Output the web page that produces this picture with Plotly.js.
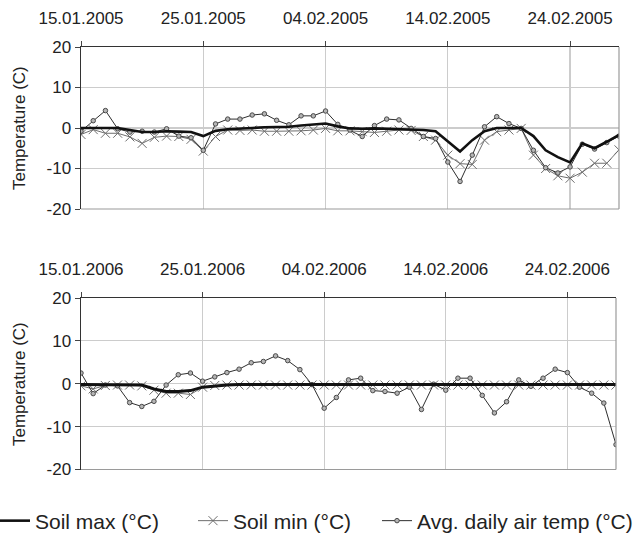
<!DOCTYPE html>
<html><head><meta charset="utf-8">
<script src="https://cdn.plot.ly/plotly-3.0.1.min.js"></script>
<style>html,body{margin:0;padding:0;background:#fff;overflow:hidden}
#wrap{width:644px;height:535px;overflow:hidden;position:relative}
#chart{position:absolute;left:-12px;top:0}</style>
</head><body><div id="wrap"><div id="chart"></div></div>
<script>
// ---- data (daily values, 15 Jan .. 28 Feb) ----
const start2005 = '2005-01-15';
const start2006 = '2006-01-15';
const end2005 = '2005-02-28';
const end2006 = '2006-02-28';

const tickDates2005 = ['2005-01-15','2005-01-25','2005-02-04','2005-02-14','2005-02-24'];
const tickLabels2005 = ['15.01.2005','25.01.2005','04.02.2005','14.02.2005','24.02.2005'];
const tickDates2006 = ['2006-01-15','2006-01-25','2006-02-04','2006-02-14','2006-02-24'];
const tickLabels2006 = ['15.01.2006','25.01.2006','04.02.2006','14.02.2006','24.02.2006'];

const yTickVals = [-20,-10,0,10,20];
const yTickText = ['-20','-10','0','10','20'];

const seriesNames = ['Soil max (°C)','Soil min (°C)','Avg. daily air temp (°C)'];

const soilMax2005 = [0,0,0,0,-0.5,-1.0,-1.0,-0.8,-0.9,-1.0,
  -2.0,-0.7,-0.3,-0.2,0,0.2,0.3,0.3,0.6,0.8,
  1.1,0.4,-0.1,-0.2,-0.1,-0.2,-0.3,-0.4,-0.5,-0.8,
  -3.2,-5.8,-3.0,-0.8,0,0,0,-2.0,-5.5,-7.2,
  -8.5,-3.8,-5.0,-3.4,-1.7];
const soilMin2005 = [-1.6,-0.4,-1.3,-1.3,-2.2,-3.8,-2.3,-2.0,-2.1,-2.8,
  -5.7,-2.1,-0.5,-0.6,-0.5,-0.8,-0.8,-0.8,-0.7,-0.5,
  -0.1,-0.7,-0.7,-0.9,-1.1,-0.8,-0.5,-0.6,-2.1,-3.0,
  -6.7,-8.8,-9.0,-3.0,-0.9,-0.5,-0.1,-6.7,-10.0,-11.8,
  -12.4,-10.9,-8.7,-8.7,-5.4];
const airTemp2005 = [-0.8,1.8,4.3,-0.2,-1.0,-0.8,-1.0,-0.2,-2.0,-2.4,
  -5.5,1.0,2.2,2.2,3.2,3.5,1.9,0.8,3.0,3.0,
  4.2,0.9,-0.5,-2.1,0.6,2.2,2.0,-0.1,-2.1,-2.6,
  -8.4,-13.2,-6.7,0.3,2.8,1.1,-0.1,-5.5,-9.8,-11.1,
  -9.6,-4.0,-5.2,-3.6,-2.0];

const soilMax2006 = [-0.2,-0.2,-0.2,-0.2,-0.2,-0.3,-1.2,-1.8,-1.8,-1.6,
  -0.8,-0.5,-0.3,-0.2,-0.2,-0.2,-0.2,-0.2,-0.2,-0.2,
  -0.2,-0.2,-0.2,-0.2,-0.2,-0.2,-0.2,-0.2,-0.2,-0.2,
  -0.2,-0.2,-0.2,-0.2,-0.2,-0.2,-0.2,-0.2,-0.2,-0.2,
  -0.2,-0.2,-0.2,-0.2,-0.2];
const soilMin2006 = [-0.5,-1.2,-0.4,-0.3,-0.3,-0.5,-1.5,-2.2,-2.2,-2.5,
  -0.8,-0.4,-0.3,-0.3,-0.3,-0.3,-0.3,-0.3,-0.3,-0.3,
  -0.3,-0.3,-0.3,-0.3,-0.3,-0.3,-0.3,-0.3,-0.3,-0.3,
  -0.3,-0.3,-0.3,-0.3,-0.3,-0.3,-0.3,-0.3,-0.3,-0.3,
  -0.3,-0.3,-0.3,-0.3,-0.3];
const airTemp2006 = [2.5,-2.3,-0.3,-0.5,-4.4,-5.3,-4.1,-0.3,2.1,2.5,
  0.6,1.6,2.6,3.4,4.9,5.2,6.5,5.4,3.3,-0.2,
  -5.7,-3.2,0.9,1.3,-1.6,-1.8,-2.2,-0.8,-6.0,-0.1,
  -1.5,1.3,1.3,-2.7,-6.8,-4.2,0.9,-0.6,1.3,3.4,
  2.6,-0.8,-2.2,-4.5,-14.2];

// ---- helpers ----
function dailyDates(start, n){
  const out = [];
  const d0 = new Date(start + 'T00:00:00Z');
  for (let i = 0; i < n; i++){
    const d = new Date(d0.getTime() + i*86400000);
    out.push(d.toISOString().slice(0,10));
  }
  return out;
}
const FONT = 'Liberation Sans, Arial, sans-serif';
const S = 12;              // paper extends S px left of the visible window
const W = 644 + S, H = 535;
const px = v => (v + S) / W;   // visible x pixel -> paper fraction
const py = v => 1 - v / H;     // visible y pixel -> paper fraction

function traces(dates, smax, smin, air, xa, ya, legend, maxWidth){
  return [
    {x: dates, y: smin, xaxis: xa, yaxis: ya, name: seriesNames[1], legend: 'legend2',
     showlegend: legend, mode: 'lines+markers',
     line: {color: '#6e6e6e', width: 1},
     marker: {symbol: 'x-thin', size: 9, color: '#6e6e6e', line: {color: '#6e6e6e', width: 1}}},
    {x: dates, y: air, xaxis: xa, yaxis: ya, name: seriesNames[2], legend: 'legend3',
     showlegend: legend, mode: 'lines+markers',
     line: {color: '#2e2e2e', width: 1},
     marker: {symbol: 'circle', size: 4.5, color: '#b5b5b5', line: {color: '#4a4a4a', width: 1}}},
    {x: dates, y: smax, xaxis: xa, yaxis: ya, name: seriesNames[0], legend: 'legend',
     showlegend: legend, mode: 'lines',
     line: {color: '#111111', width: maxWidth}}
  ];
}

const d2005 = dailyDates(start2005, airTemp2005.length);
const d2006 = dailyDates(start2006, airTemp2006.length);

const data = [].concat(
  traces(d2005, soilMax2005, soilMin2005, airTemp2005, 'x', 'y', true, 2.6),
  traces(d2006, soilMax2006, soilMin2006, airTemp2006, 'x2', 'y2', false, 3)
);

function xAxis(domain, anchor, range, tv, tt){
  return {type: 'date', domain: domain, anchor: anchor, side: 'top', range: range,
    tickvals: tv, ticktext: tt, ticks: 'outside', ticklen: 5, tickcolor: '#444',
    showgrid: true, gridcolor: '#cccccc', gridwidth: 1.2,
    showline: true, linecolor: '#333', linewidth: 1.5, zeroline: false,
    ticklabelstandoff: 10, automargin: false,
    tickfont: {family: FONT, size: 17, color: '#222'}, fixedrange: true};
}
function yAxis(domain, anchor){
  return {domain: domain, anchor: anchor, range: [-20, 20], tickvals: yTickVals, ticktext: yTickText,
    ticks: 'outside', ticklen: 5, tickcolor: '#444', automargin: false,
    showgrid: true, gridcolor: '#cccccc', gridwidth: 1.2,
    showline: true, linecolor: '#333', linewidth: 1.5, zeroline: false,
    tickfont: {family: FONT, size: 17, color: '#222'}, fixedrange: true};
}
function frame(xa, ya){
  const xr = xa + ' domain', yr = ya + ' domain';
  return [
    {type: 'line', xref: xr, yref: yr, x0: 1, x1: 1, y0: 0, y1: 1, line: {color: '#9a9a9a', width: 1.2}},
    {type: 'line', xref: xr, yref: yr, x0: 0, x1: 1, y0: 0, y1: 0, line: {color: '#9a9a9a', width: 1.2}}
  ];
}
function legendAt(xText){
  // legend text starts 40px right of the legend origin
  return {orientation: 'h', x: px(xText - 40), xanchor: 'left', y: py(521), yanchor: 'middle',
    bgcolor: 'rgba(0,0,0,0)', borderwidth: 0,
    font: {family: FONT, size: 21, color: '#222'}};
}

const layout = {
  width: W, height: H,
  margin: {l: 0, r: 0, t: 0, b: 0, pad: 0, autoexpand: false},
  paper_bgcolor: '#fff', plot_bgcolor: '#fff',
  font: {family: FONT, color: '#222'},
  xaxis: xAxis([px(81), px(619)], 'y', [start2005, end2005], tickDates2005, tickLabels2005),
  yaxis: yAxis([py(209), py(47)], 'x'),
  xaxis2: xAxis([px(81), px(616)], 'y2', [start2006, end2006], tickDates2006, tickLabels2006),
  yaxis2: yAxis([py(469.5), py(298)], 'x2'),
  shapes: frame('x', 'y').concat(frame('x2', 'y2')),
  annotations: [
    {text: 'Temperature (C)', xref: 'paper', yref: 'paper', x: px(20), y: py(128),
     textangle: -90, showarrow: false, xanchor: 'center', yanchor: 'middle',
     font: {family: FONT, size: 17, color: '#222'}},
    {text: 'Temperature (C)', xref: 'paper', yref: 'paper', x: px(20), y: py(384),
     textangle: -90, showarrow: false, xanchor: 'center', yanchor: 'middle',
     font: {family: FONT, size: 17, color: '#222'}}
  ],
  showlegend: true,
  legend: legendAt(35),
  legend2: legendAt(233),
  legend3: legendAt(417)
};

Plotly.newPlot('chart', data, layout, {displayModeBar: false, staticPlot: true});
</script>
</body></html>
